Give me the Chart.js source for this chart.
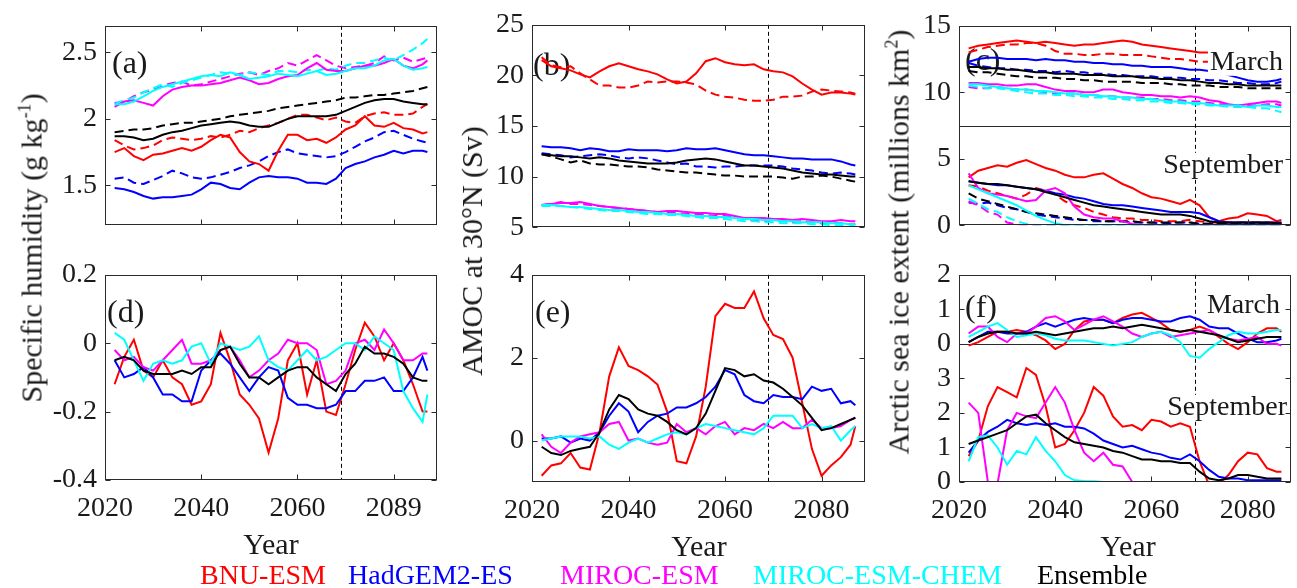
<!DOCTYPE html>
<html>
<head>
<meta charset="utf-8">
<script src="https://cdn.jsdelivr.net/npm/chart.js@4.4.1/dist/chart.umd.min.js"></script>
<style>
  body { margin: 0; background: #fff; width: 1297px; height: 588px; position: relative; overflow: hidden;
         font-family: "Liberation Serif", "Times New Roman", serif; color: #1a1a1a; }
  canvas { position: absolute; }
  .t { position: absolute; white-space: nowrap; line-height: 1; }
  .ytitle { font-size: 30px; transform: translate(-50%, -50%) rotate(-90deg); }
  .xtitle { font-size: 30px; transform: translate(-50%, -50%); }
  .leg { font-size: 28px; transform: translateY(-50%); }
  sup { font-size: 0.6em; }
</style>
</head>
<body>
<canvas id="pa"></canvas>
<canvas id="pb"></canvas>
<canvas id="pc"></canvas>
<canvas id="pd"></canvas>
<canvas id="pe"></canvas>
<canvas id="pf"></canvas>

<div class="t ytitle" style="left:31px;top:248px">Specific humidity (g kg<sup>-1</sup>)</div>
<div class="t ytitle" style="left:472px;top:251px">AMOC at 30°N (Sv)</div>
<div class="t ytitle" style="left:898px;top:242px">Arctic sea ice extent (millions km<sup>2</sup>)</div>
<div class="t xtitle" style="left:271px;top:544px">Year</div>
<div class="t xtitle" style="left:699px;top:546px">Year</div>
<div class="t xtitle" style="left:1128px;top:546px">Year</div>
<div class="t leg" style="left:200px;top:575px;color:#ff0000">BNU-ESM</div>
<div class="t leg" style="left:348px;top:575px;color:#0000ff">HadGEM2-ES</div>
<div class="t leg" style="left:560px;top:575px;color:#ff00ff">MIROC-ESM</div>
<div class="t leg" style="left:753px;top:575px;color:#00ffff">MIROC-ESM-CHEM</div>
<div class="t leg" style="left:1037px;top:575px;color:#000000">Ensemble</div>

<script>
// years of the running-mean series
const years = [2022,2024,2026,2028,2030,2032,2034,2036,2038,2040,2042,2044,2046,2048,2050,2052,2054,2056,2058,2060,
               2062,2064,2066,2068,2070,2072,2074,2076,2078,2080,2082,2084,2086,2087];
const splitYear = 2069;
const xTicks = [2020, 2040, 2060, 2080];
const xLabelsHum = ['2020', '2040', '2060', '2089'];
const xLabels = ['2020', '2040', '2060', '2080'];

// (a) specific humidity, solid and dashed
const humBnu = [1.75,1.78,1.72,1.69,1.73,1.74,1.76,1.78,1.76,1.79, 1.84,1.88,1.86,1.75,1.68,1.66,1.61,1.76,1.88,1.88,
                1.84,1.85,1.82,1.86,1.92,1.95,2.02,1.95,1.94,1.97, 1.93,1.92,1.89,1.90];
const humBnuDash = [1.84,1.80,1.77,1.78,1.80,1.84,1.86,1.85,1.84,1.85, 1.87,1.86,1.88,1.91,1.90,1.93,1.95,1.97,2.00,2.03,
                    2.03,2.01,1.99,2.01,1.98,1.97,2.02,2.04,2.05,2.03, 2.03,2.04,2.09,2.11];
const humHad = [1.48,1.47,1.45,1.42,1.40,1.41,1.41,1.42,1.43,1.47, 1.52,1.51,1.48,1.47,1.52,1.56,1.57,1.56,1.56,1.55,
                1.52,1.52,1.51,1.55,1.63,1.66,1.68,1.71,1.73,1.76, 1.74,1.76,1.76,1.75];
const humHadDash = [1.55,1.56,1.52,1.51,1.54,1.57,1.61,1.59,1.56,1.55, 1.56,1.58,1.60,1.63,1.65,1.68,1.72,1.75,1.77,1.74,
                    1.73,1.72,1.71,1.72,1.75,1.79,1.83,1.86,1.90,1.91, 1.88,1.85,1.83,1.82];
const humMir = [2.09,2.13,2.14,2.12,2.10,2.17,2.22,2.24,2.25,2.25, 2.26,2.27,2.29,2.31,2.29,2.26,2.27,2.30,2.32,2.33,
                2.38,2.42,2.37,2.36,2.36,2.38,2.40,2.40,2.42,2.45, 2.40,2.38,2.41,2.44];
const humMirDash = [2.12,2.13,2.17,2.20,2.22,2.25,2.27,2.28,2.25,2.26, 2.28,2.30,2.32,2.34,2.35,2.33,2.36,2.38,2.42,2.40,
                    2.44,2.48,2.44,2.40,2.38,2.39,2.40,2.42,2.47,2.44, 2.46,2.43,2.45,2.46];
const humChem = [2.11,2.11,2.13,2.17,2.21,2.24,2.26,2.28,2.30,2.32, 2.33,2.32,2.35,2.33,2.30,2.31,2.32,2.34,2.33,2.32,
                 2.34,2.36,2.33,2.34,2.36,2.38,2.38,2.40,2.44,2.45, 2.40,2.37,2.38,2.39];
const humChemDash = [2.11,2.14,2.16,2.20,2.23,2.26,2.24,2.27,2.29,2.31, 2.33,2.35,2.34,2.33,2.35,2.34,2.33,2.36,2.36,2.35,
                     2.37,2.36,2.38,2.37,2.40,2.42,2.42,2.44,2.46,2.44, 2.48,2.52,2.57,2.60];
const humEns = [1.87,1.87,1.86,1.84,1.85,1.88,1.90,1.91,1.93,1.95, 1.96,1.97,1.98,1.97,1.95,1.94,1.94,1.97,2.00,2.02,
                2.02,2.02,2.02,2.03,2.06,2.09,2.12,2.14,2.15,2.15, 2.13,2.12,2.11,2.11];
const humEnsDash = [1.90,1.91,1.92,1.92,1.93,1.95,1.96,1.97,1.97,1.98, 1.99,2.00,2.02,2.03,2.04,2.05,2.06,2.08,2.09,2.10,
                    2.11,2.12,2.13,2.14,2.16,2.16,2.17,2.18,2.18,2.19, 2.20,2.21,2.23,2.24];

// (b) AMOC at 30N
const amocBnu = [21.5,20.9,20.7,20.5,20.1,19.8,20.4,20.9,21.2,20.9, 20.6,20.4,20.1,19.6,19.2,19.4,20.2,21.4,21.7,21.3,
                 21.1,21.0,21.1,20.6,20.4,20.3,19.9,19.2,18.6,18.1, 18.3,18.3,18.2,18.1];
const amocBnuDash = [21.8,21.0,20.8,20.9,20.2,19.6,19.0,19.0,18.8,18.8, 19.0,19.4,19.3,19.4,19.4,19.3,19.1,18.5,18.1,17.9,
                     17.8,17.6,17.5,17.5,17.6,17.9,17.9,18.0,18.4,18.6, 18.5,18.4,18.3,18.2];
const amocHad = [13.0,12.9,12.9,12.8,12.6,12.8,12.7,12.5,12.5,12.7, 12.6,12.6,12.6,12.5,12.6,12.8,12.7,12.7,12.8,12.6,
                 12.4,12.2,12.1,12.1,12.0,11.9,11.8,11.8,11.7,11.7, 11.7,11.5,11.2,11.1];
const amocHadDash = [12.3,12.2,12.1,11.9,12.0,12.1,12.2,12.1,11.9,11.8, 11.9,11.8,11.6,11.4,11.2,11.3,11.0,11.0,10.9,11.0,
                     11.0,11.1,11.1,11.1,11.1,11.0,10.8,10.7,10.6,10.4, 10.3,10.4,10.3,10.2];
const amocMir = [7.2,7.3,7.4,7.4,7.5,7.3,7.1,7.0,6.9,6.8, 6.7,6.6,6.5,6.6,6.6,6.5,6.4,6.4,6.3,6.3,
                 6.1,5.9,5.9,5.9,5.8,5.8,5.7,5.8,5.7,5.6, 5.6,5.7,5.6,5.6];
const amocMirDash = [7.2,7.3,7.5,7.3,7.3,7.2,7.1,7.0,6.9,6.8, 6.7,6.6,6.5,6.5,6.4,6.3,6.3,6.2,6.1,6.1,
                     6.0,5.8,5.7,5.6,5.7,5.6,5.5,5.6,5.5,5.4, 5.5,5.4,5.3,5.3];
const amocChem = [7.2,7.2,7.1,7.0,7.0,6.9,6.8,6.7,6.7,6.6, 6.5,6.5,6.4,6.3,6.3,6.2,6.1,6.1,6.0,6.0,
                  5.9,5.8,5.8,5.7,5.7,5.6,5.6,5.5,5.5,5.5, 5.4,5.4,5.3,5.3];
const amocChemDash = [7.1,7.1,7.1,7.0,6.9,6.8,6.7,6.6,6.6,6.5, 6.4,6.3,6.3,6.2,6.2,6.1,6.0,5.9,5.9,5.8,
                      5.7,5.6,5.6,5.5,5.5,5.4,5.4,5.4,5.3,5.3, 5.2,5.2,5.1,5.1];
const amocEns = [12.2,12.1,12.0,12.0,11.9,11.8,11.9,11.8,11.6,11.5, 11.4,11.3,11.3,11.3,11.4,11.6,11.7,11.8,11.7,11.5,
                 11.3,11.1,11.1,11.0,10.9,10.8,10.6,10.4,10.3,10.2, 10.2,10.1,10.0,10.0];
const amocEnsDash = [12.2,12.0,11.7,11.4,11.6,11.3,11.2,11.2,11.1,11.0, 11.0,10.9,10.7,10.6,10.5,10.4,10.4,10.3,10.2,10.1,
                     10.1,10.0,10.0,10.0,10.0,9.9,9.8,10.0,10.0,10.1, 10.0,9.8,9.6,9.5];

// (c) sea ice extent, March
const marBnu = [13.3,13.5,13.6,13.7,13.8,13.9,13.8,13.7,13.8,13.7, 13.6,13.5,13.6,13.6,13.7,13.8,13.9,13.8,13.6,13.5,
                13.4,13.3,13.2,13.1,13.0,13.0,12.9,12.9,12.9,13.0, 13.0,13.0,13.0,13.0];
const marBnuDash = [13.0,13.2,13.4,13.5,13.6,13.6,13.7,13.7,13.5,13.1, 12.9,12.9,12.8,12.8,12.9,12.9,12.8,12.8,12.8,12.7,
                    12.6,12.5,12.5,12.4,12.3,12.3,12.4,12.4,12.5,12.5, 12.4,12.4,12.4,12.4];
const marHad = [12.3,12.5,12.6,12.6,12.5,12.5,12.5,12.4,12.5,12.4, 12.4,12.3,12.3,12.2,12.2,12.1,12.1,12.0,12.0,11.9,
                11.9,11.9,11.8,11.7,11.7,11.6,11.5,11.3,11.1,10.9, 10.8,10.8,10.9,11.0];
const marHadDash = [12.2,12.0,11.9,11.8,11.8,11.7,11.7,11.6,11.6,11.5, 11.6,11.5,11.5,11.4,11.4,11.3,11.3,11.2,11.2,11.2,
                    11.1,11.1,11.1,11.0,11.0,10.9,10.9,10.8,10.7,10.7, 10.6,10.6,10.7,10.8];
const marMir = [10.7,10.7,10.6,10.6,10.5,10.5,10.6,10.6,10.4,10.2, 10.1,10.1,10.0,10.0,10.2,10.2,10.0,9.9,9.8,9.8,
                9.7,9.7,9.6,9.7,9.6,9.4,9.3,9.1,9.0,9.1, 9.2,9.3,9.3,9.2];
const marMirDash = [10.4,10.3,10.3,10.4,10.3,10.2,10.2,10.1,10.0,9.9, 9.9,9.9,9.8,9.8,9.7,9.7,9.6,9.6,9.6,9.5,
                    9.5,9.4,9.4,9.3,9.3,9.2,9.1,9.1,9.0,9.0, 9.0,9.1,9.1,9.0];
const marChem = [10.6,10.6,10.5,10.4,10.3,10.2,10.2,10.1,10.1,10.0, 9.9,9.9,9.8,9.8,9.7,9.7,9.6,9.6,9.5,9.5,
                 9.4,9.3,9.3,9.2,9.2,9.1,9.0,9.0,9.0,8.9, 9.0,9.0,8.9,8.9];
const marChemDash = [10.5,10.4,10.3,10.3,10.2,10.1,10.0,9.9,9.9,9.8, 9.8,9.7,9.7,9.6,9.6,9.5,9.5,9.4,9.4,9.3,
                     9.3,9.2,9.2,9.1,9.1,9.0,9.0,8.9,8.9,8.9, 8.8,8.8,8.6,8.5];
const marEns = [11.9,11.9,11.8,11.8,11.7,11.7,11.6,11.5,11.5,11.4, 11.4,11.4,11.3,11.3,11.3,11.2,11.2,11.2,11.1,11.1,
                11.0,11.0,10.9,10.9,10.8,10.7,10.7,10.6,10.6,10.5, 10.5,10.5,10.5,10.5];
const marEnsDash = [11.6,11.5,11.5,11.4,11.3,11.2,11.2,11.1,11.1,11.1, 11.0,11.0,10.9,10.9,10.8,10.8,10.8,10.8,10.7,10.7,
                    10.7,10.6,10.6,10.5,10.5,10.5,10.4,10.4,10.4,10.3, 10.3,10.3,10.3,10.3];

// (c) sea ice extent, September
const sepBnu = [3.6,4.1,4.3,4.5,4.4,4.7,4.9,4.6,4.3,4.1, 3.8,3.6,3.6,3.8,3.9,3.5,3.1,2.8,2.4,2.1,
                2.0,1.8,1.6,1.9,1.5,0.6,0.3,0.5,0.6,0.9, 0.8,0.7,0.3,0.4];
const sepBnuDash = [3.0,2.9,2.6,2.4,2.2,2.0,2.3,2.8,2.6,2.3, 1.8,1.5,1.3,1.0,0.8,0.6,0.5,0.5,0.4,0.4,
                    0.3,0.3,0.3,0.4,0.3,0.2,0.2,0.2,0.2,0.2, 0.2,0.2,0.2,0.2];
const sepHad = [3.3,3.2,3.1,3.0,3.0,2.9,2.8,2.7,2.6,2.4, 2.3,2.1,2.0,1.8,1.6,1.5,1.5,1.4,1.3,1.2,
                1.1,1.0,1.0,1.0,0.9,0.6,0.3,0.2,0.2,0.2, 0.2,0.2,0.2,0.2];
const sepHadDash = [1.7,1.6,1.7,1.5,1.3,1.2,1.0,0.8,0.7,0.6, 0.5,0.4,0.4,0.3,0.3,0.3,0.3,0.2,0.2,0.2,
                    0.15,0.15,0.2,0.2,0.1,0.1,0.1,0.1,0.1,0.1, 0.1,0.1,0.1,0.1];
const sepMir = [3.9,2.8,2.4,2.3,2.2,2.0,1.8,1.9,2.6,2.8, 2.4,1.4,0.8,0.6,0.5,0.5,0.3,0.1,0,0,
                0,0,0,0,0,0,0,0,0,0, 0,0,0,0];
const sepMirDash = [1.8,1.5,1.0,0.8,0.2,0.05,0,0,0,0, 0,0,0,0,0,0,0,0,0,0,
                    0,0,0,0,0,0,0,0,0,0, 0,0,0,0];
const sepChem = [3.0,2.7,2.4,2.1,1.8,1.5,1.1,0.7,0.4,0.15, 0,0,0,0,0,0,0,0,0,0,
                 0,0,0,0,0,0,0,0,0,0, 0,0,0,0];
const sepChemDash = [2.0,1.6,1.2,1.0,0.6,0.3,0.1,0,0,0, 0,0,0,0,0,0,0,0,0,0,
                     0,0,0,0,0,0,0,0,0,0, 0,0,0,0];
const sepEns = [3.3,3.2,3.1,3.1,3.0,2.9,2.8,2.7,2.5,2.3, 2.1,1.9,1.7,1.5,1.4,1.3,1.2,1.1,1.0,0.9,
                0.8,0.8,0.8,0.7,0.5,0.3,0.2,0.2,0.2,0.2, 0.2,0.2,0.15,0.15];
const sepEnsDash = [2.4,2.0,1.8,1.6,1.4,1.2,1.0,0.9,0.8,0.7, 0.6,0.5,0.4,0.4,0.3,0.3,0.3,0.3,0.2,0.2,
                    0.2,0.2,0.2,0.2,0.1,0.1,0.1,0.1,0.1,0.1, 0.1,0.1,0.1,0.1];

// (d) humidity difference
const dHumBnu = [-0.12,-0.04,0.01,-0.08,-0.10,-0.05,-0.10,-0.12,-0.18,-0.17, -0.12,0.03,-0.05,-0.15,-0.18,-0.22,-0.32,-0.22,-0.05,0.0,
                 -0.15,-0.05,-0.20,-0.21,-0.12,-0.02,0.06,0.02,-0.05,0.0, -0.05,-0.12,-0.20,-0.20];
const dHumHad = [-0.05,-0.10,-0.09,-0.07,-0.10,-0.15,-0.15,-0.17,-0.17,-0.08, -0.05,-0.03,-0.06,-0.10,-0.14,-0.10,-0.07,-0.08,-0.16,-0.18,
                 -0.18,-0.19,-0.19,-0.18,-0.14,-0.14,-0.11,-0.11,-0.10,-0.14, -0.14,-0.10,-0.04,-0.08];
const dHumMir = [-0.02,-0.05,-0.04,-0.07,-0.08,-0.05,-0.02,0.01,-0.06,-0.06, -0.05,-0.02,-0.01,-0.05,-0.10,-0.08,-0.05,-0.03,0.01,0.0,
                 0.0,-0.02,-0.12,-0.11,-0.08,0.0,0.01,-0.02,0.04,0.0, -0.05,-0.05,-0.03,-0.03];
const dHumChem = [0.03,0.01,-0.05,-0.11,-0.06,-0.05,-0.06,-0.05,-0.01,0.0, -0.06,0.0,-0.01,-0.02,-0.01,0.02,-0.05,-0.07,-0.08,-0.05,
                  -0.02,-0.05,-0.04,-0.02,0.0,0.0,-0.02,0.02,0.0,-0.02, -0.14,-0.19,-0.23,-0.15];
const dHumEns = [-0.05,-0.04,-0.05,-0.08,-0.09,-0.09,-0.09,-0.08,-0.09,-0.07, -0.07,-0.02,-0.01,-0.06,-0.10,-0.10,-0.12,-0.10,-0.08,-0.07,
                 -0.07,-0.10,-0.12,-0.14,-0.09,-0.06,-0.01,-0.03,-0.03,-0.04, -0.06,-0.10,-0.11,-0.11];

// (e) AMOC difference
const dAmocBnu = [-0.85,-0.6,-0.55,-0.3,-0.65,-0.7,0.2,1.55,2.25,1.8, 1.7,1.55,1.35,0.7,-0.5,-0.55,0.1,1.3,3.0,3.3,
                  3.2,3.2,3.6,2.95,2.55,2.45,2.0,0.9,-0.2,-0.85, -0.6,-0.4,-0.1,0.35];
const dAmocHad = [0.05,0.05,0.1,-0.05,0.05,0.0,0.2,0.6,0.9,0.7, 0.2,0.45,0.6,0.65,0.8,0.8,0.9,1.05,1.3,1.7,
                  1.6,1.1,0.95,0.9,1.1,1.05,1.05,1.0,1.3,1.2, 1.25,0.9,0.95,0.85];
const dAmocMir = [0.15,-0.15,-0.3,-0.05,0.1,0.15,0.2,0.4,0.45,0.0, 0.05,-0.05,-0.1,-0.05,0.4,0.2,0.3,0.15,0.35,0.45,
                  0.15,0.3,0.25,0.4,0.3,0.45,0.3,0.3,0.5,0.3, 0.3,0.35,0.5,0.55];
const dAmocChem = [0.0,0.05,0.1,0.1,0.1,0.05,0.1,-0.1,-0.2,-0.05, 0.05,-0.05,0.05,0.15,0.2,0.15,0.3,0.4,0.35,0.3,
                   0.25,0.2,0.15,0.3,0.6,0.6,0.6,0.3,0.4,0.3, 0.35,0.0,0.25,0.35];
const dAmocEns = [-0.15,-0.3,-0.35,-0.25,-0.2,-0.15,0.2,0.75,1.1,1.0, 0.75,0.65,0.6,0.45,0.25,0.15,0.3,0.65,1.2,1.75,
                  1.7,1.55,1.6,1.45,1.4,1.25,1.05,0.85,0.55,0.25, 0.3,0.4,0.5,0.55];

// (f) sea ice difference, March (drawn shifted up) and September
const marchShift = 4;
const dMarBnu = [-0.05,0.05,0.2,0.35,0.35,0.4,0.35,0.25,0.1,-0.15, 0.0,0.4,0.65,0.7,0.7,0.6,0.75,0.85,0.9,0.75,
                 0.6,0.4,0.35,0.4,0.5,0.4,0.2,0.0,-0.15,0.05, 0.3,0.45,0.45,0.35];
const dMarHad = [0.05,0.2,0.35,0.35,0.3,0.3,0.35,0.5,0.6,0.5, 0.6,0.7,0.75,0.7,0.7,0.6,0.7,0.75,0.75,0.7,
                 0.65,0.65,0.75,0.8,0.7,0.5,0.45,0.45,0.3,0.15, 0.05,0.05,0.1,0.15];
const dMarMir = [0.3,0.5,0.5,0.2,0.05,0.3,0.3,0.5,0.75,0.8, 0.65,0.4,0.55,0.7,0.8,0.65,0.5,0.3,0.2,0.3,
                 0.35,0.2,0.25,0.3,0.35,0.4,0.25,0.15,0.1,0.15, 0.2,0.0,0.0,-0.05];
const dMarChem = [0.2,0.35,0.5,0.6,0.4,0.2,0.25,0.3,0.25,0.15, 0.1,0.1,0.1,0.05,0.0,-0.05,0.0,0.05,0.2,0.3,
                  0.35,0.25,0.05,-0.35,-0.4,-0.15,0.05,0.25,0.35,0.3, 0.3,0.35,0.4,0.4];
const dMarEns = [0.05,0.2,0.3,0.35,0.35,0.3,0.3,0.35,0.3,0.25, 0.3,0.35,0.4,0.45,0.45,0.5,0.45,0.5,0.55,0.5,
                 0.45,0.4,0.35,0.4,0.35,0.3,0.25,0.15,0.05,0.1, 0.15,0.2,0.2,0.2];
const dSepBnu = [0.75,1.2,2.2,2.75,2.6,2.45,3.3,3.1,2.2,1.0, 1.1,1.5,2.0,2.75,2.5,1.9,1.6,1.65,1.5,1.8,
                 1.75,1.6,1.7,1.6,0.6,-0.1,-0.05,0.2,0.6,0.85, 0.8,0.4,0.3,0.3];
const dSepHad = [0.85,1.2,1.45,1.6,1.8,1.7,1.65,1.7,1.65,1.7, 1.6,1.6,1.55,1.4,1.2,1.1,1.0,1.05,0.95,0.85,
                 0.8,0.7,0.65,0.8,0.6,0.35,0.15,0.1,0.1,0.05, 0.05,0.05,0.05,0.05];
const dSepMir = [2.3,2.0,0.0,-0.05,1.5,2.0,1.9,1.85,2.3,2.75, 2.3,1.5,0.85,0.6,0.85,0.5,0.45,0.0,0,0,
                 0,0,0,0,0,0,0,0,0,0, 0,0,0,0];
const dSepChem = [0.6,1.3,1.35,1.0,0.5,0.9,0.8,1.3,0.9,0.6, 0.2,0.05,0.03,0.02,0,0,0,0,0,0,
                  0,0,0,0,0,0,0,0,0,0, 0,0,0,0];
const dSepEns = [1.1,1.2,1.3,1.4,1.5,1.7,1.9,1.95,1.7,1.5, 1.3,1.15,1.1,1.05,1.0,0.9,0.85,0.75,0.65,0.65,
                 0.6,0.6,0.55,0.55,0.3,0.1,0.05,0.1,0.2,0.2, 0.15,0.1,0.1,0.1];

const RED = '#ff0000', BLUE = '#0000ff', MAG = '#ff00ff', CYAN = '#00ffff', BLACK = '#000000';
const ink = '#2a2a2a';
const serif = '"Liberation Serif", "Times New Roman", serif';

Chart.defaults.font.family = serif;
Chart.defaults.color = '#1a1a1a';

function series(vals, color, dashed) {
  return {
    data: years.map((x, i) => ({ x: x, y: vals[i] })),
    borderColor: color,
    borderWidth: 2,
    borderDash: dashed ? [9, 5] : [],
    pointRadius: 0,
    tension: 0,
    fill: false
  };
}

// box, inward ticks, divider lines, dashed year marker and notes
const frame = {
  id: 'frame',
  beforeDatasetsDraw(chart, args, o) {
    const { ctx, chartArea: a, scales: { x, y } } = chart;
    ctx.save();
    ctx.strokeStyle = ink;
    ctx.lineWidth = 1;
    (o.hlines || []).forEach(v => {
      const py = Math.round(y.getPixelForValue(v)) + 0.5;
      ctx.beginPath(); ctx.moveTo(a.left, py); ctx.lineTo(a.right, py); ctx.stroke();
    });
    const px = Math.round(x.getPixelForValue(splitYear)) + 0.5;
    ctx.strokeStyle = '#000';
    ctx.setLineDash([4, 3]);
    ctx.beginPath(); ctx.moveTo(px, a.top); ctx.lineTo(px, a.bottom); ctx.stroke();
    ctx.setLineDash([]);
    // panel letter sits under the lines
    if (o.tag) {
      ctx.fillStyle = '#1a1a1a';
      ctx.font = '32px ' + serif;
      ctx.textAlign = 'left';
      ctx.textBaseline = 'middle';
      ctx.fillText(o.tag[0], a.left + o.tag[1], a.top + o.tag[2]);
    }
    ctx.restore();
  },
  afterDatasetsDraw(chart, args, o) {
    const { ctx, chartArea: a, scales: { x, y } } = chart;
    ctx.save();
    ctx.font = '28px ' + serif;
    ctx.textAlign = 'right';
    ctx.textBaseline = 'middle';
    (o.notes || []).forEach(n => {
      const w = ctx.measureText(n[0]).width;
      const rx = a.right + n[1], cy = a.top + n[2];
      ctx.fillStyle = '#fff';
      ctx.fillRect(rx - w - 2, cy - 13, w + 4, 26);
      ctx.fillStyle = '#1a1a1a';
      ctx.fillText(n[0], rx, cy);
    });
    ctx.strokeStyle = ink;
    ctx.lineWidth = 1;
    const L = Math.round(a.left) + 0.5, R = Math.round(a.right) - 0.5;
    const T = Math.round(a.top) + 0.5, B = Math.round(a.bottom) - 0.5;
    ctx.strokeRect(L, T, R - L, B - T);
    const tl = 5;
    ctx.beginPath();
    x.ticks.forEach(t => {
      const px = Math.round(x.getPixelForValue(t.value)) + 0.5;
      ctx.moveTo(px, B); ctx.lineTo(px, B - tl);
      ctx.moveTo(px, T); ctx.lineTo(px, T + tl);
    });
    y.ticks.forEach(t => {
      const py = Math.round(y.getPixelForValue(t.value)) + 0.5;
      ctx.moveTo(L, py); ctx.lineTo(L + tl, py);
      ctx.moveTo(R, py); ctx.lineTo(R - tl, py);
    });
    ctx.stroke();
    ctx.restore();
  }
};

// box = [left, top, right, bottom] of the plot area on the page
function panel(id, box, p) {
  const padL = 70, padT = 18, padR = 5;
  const xh = p.xLabels ? 50 : 20;
  const c = document.getElementById(id);
  c.width = box[2] - box[0] + padL + padR;
  c.height = box[3] - box[1] + padT + xh;
  c.style.left = (box[0] - padL) + 'px';
  c.style.top = (box[1] - padT) + 'px';
  new Chart(c, {
    type: 'line',
    data: { datasets: p.datasets },
    plugins: [frame],
    options: {
      responsive: false,
      animation: false,
      layout: { padding: { left: 0, top: padT, right: padR, bottom: 0 } },
      plugins: {
        legend: { display: false },
        tooltip: { enabled: false },
        frame: { hlines: p.hlines, tag: p.tag, notes: p.notes }
      },
      scales: {
        x: {
          type: 'linear', min: 2020, max: 2089,
          afterBuildTicks: s => { s.ticks = xTicks.map(v => ({ value: v })); },
          afterFit: s => { s.height = xh; },
          grid: { display: false, drawTicks: false },
          border: { display: false },
          ticks: {
            display: !!p.xLabels, padding: 12, autoSkip: false, maxRotation: 0,
            font: { size: 28 }, color: '#1a1a1a',
            callback: (v, i) => p.xLabels ? p.xLabels[i] : ''
          }
        },
        y: {
          type: 'linear', min: p.yMin, max: p.yMax,
          afterBuildTicks: s => { s.ticks = p.yTicks.map(v => ({ value: v })); },
          afterFit: s => { s.width = padL; },
          grid: { display: false, drawTicks: false },
          border: { display: false },
          ticks: {
            padding: 8, autoSkip: false, font: { size: 28 }, color: '#1a1a1a',
            callback: (v, i) => p.yLabels[i]
          }
        }
      }
    }
  });
}

// ensemble first so it is drawn on top
function five(ens, chem, mir, had, bnu, dashed) {
  return [series(ens, BLACK, dashed), series(chem, CYAN, dashed), series(mir, MAG, dashed),
          series(had, BLUE, dashed), series(bnu, RED, dashed)];
}
const shift = arr => arr.map(v => v + marchShift);

panel('pa', [105, 19, 437, 230], {
  datasets: five(humEns, humChem, humMir, humHad, humBnu, false)
    .concat(five(humEnsDash, humChemDash, humMirDash, humHadDash, humBnuDash, true)),
  yMin: 1.2, yMax: 2.7, yTicks: [1.5, 2, 2.5], yLabels: ['1.5', '2', '2.5'],
  tag: ['(a)', 7, 39]
});
panel('pb', [532, 18, 865, 232], {
  datasets: five(amocEns, amocChem, amocMir, amocHad, amocBnu, false)
    .concat(five(amocEnsDash, amocChemDash, amocMirDash, amocHadDash, amocBnuDash, true)),
  yMin: 5, yMax: 25, yTicks: [5, 10, 15, 20, 25], yLabels: ['5', '10', '15', '20', '25'],
  tag: ['(b)', 1, 42]
});
panel('pc', [959, 19, 1291, 230], {
  datasets: five(marEns, marChem, marMir, marHad, marBnu, false)
    .concat(five(marEnsDash, marChemDash, marMirDash, marHadDash, marBnuDash, true))
    .concat(five(sepEns, sepChem, sepMir, sepHad, sepBnu, false))
    .concat(five(sepEnsDash, sepChemDash, sepMirDash, sepHadDash, sepBnuDash, true)),
  yMin: 0, yMax: 15, yTicks: [0, 5, 10, 15], yLabels: ['0', '5', '10', '15'],
  hlines: [7.5],
  tag: ['(c)', 6, 36],
  notes: [['March', -8, 37], ['September', -8, 140]]
});
panel('pd', [105, 268, 437, 480], {
  datasets: five(dHumEns, dHumChem, dHumMir, dHumHad, dHumBnu, false),
  yMin: -0.4, yMax: 0.2, yTicks: [-0.4, -0.2, 0, 0.2], yLabels: ['-0.4', '-0.2', '0', '0.2'],
  xLabels: xLabelsHum,
  tag: ['(d)', 2, 39]
});
panel('pe', [532, 268, 865, 482], {
  datasets: five(dAmocEns, dAmocChem, dAmocMir, dAmocHad, dAmocBnu, false),
  yMin: -1, yMax: 4, yTicks: [0, 2, 4], yLabels: ['0', '2', '4'],
  xLabels: xLabels,
  tag: ['(e)', 3, 39]
});
panel('pf', [959, 268, 1291, 482], {
  datasets: five(shift(dMarEns), shift(dMarChem), shift(dMarMir), shift(dMarHad), shift(dMarBnu), false)
    .concat(five(dSepEns, dSepChem, dSepMir, dSepHad, dSepBnu, false)),
  yMin: 0, yMax: 6, yTicks: [0, 1, 2, 3, 4, 5, 6], yLabels: ['0', '1', '2', '3', '0', '1', '2'],
  xLabels: xLabels,
  hlines: [marchShift],
  tag: ['(f)', 6, 34],
  notes: [['March', -11, 31], ['September', -4, 133]]
});
</script>
</body>
</html>
